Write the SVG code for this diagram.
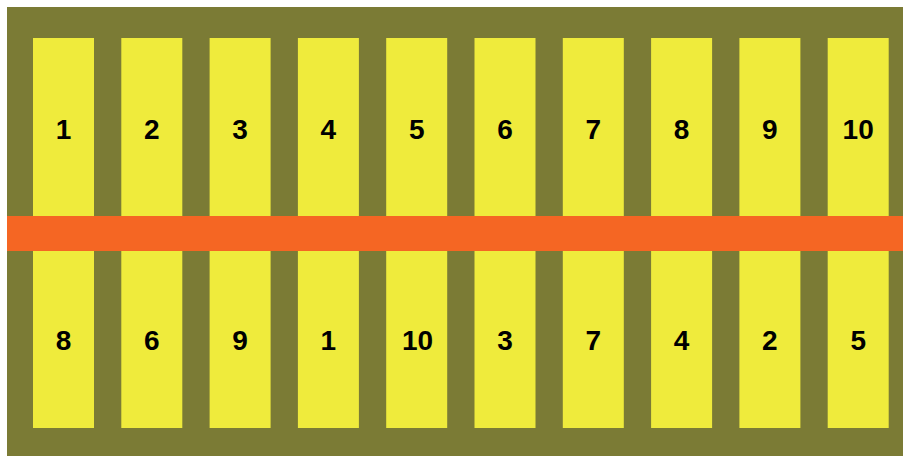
<svg xmlns="http://www.w3.org/2000/svg" width="903" height="456" viewBox="0 0 903 456">
<style>
.bg{fill:#7b7b35}
.slot{fill:#efeb3c}
.band{fill:#f56623}
.lbl{font-family:"Liberation Sans",Arial,sans-serif;font-weight:bold;font-size:28px;fill:#000;text-anchor:middle}
</style>
<rect width="903" height="456" fill="#ffffff"/>
<rect class="bg" x="7" y="7" width="896" height="449"/>
<g id="top-row">
<g id="t1"><rect class="slot" x="33" y="38" width="61" height="178"/><text class="lbl" x="63.5" y="139">1</text></g>
<g id="t2"><rect class="slot" x="121.3" y="38" width="61" height="178"/><text class="lbl" x="151.8" y="139">2</text></g>
<g id="t3"><rect class="slot" x="209.6" y="38" width="61" height="178"/><text class="lbl" x="240.1" y="139">3</text></g>
<g id="t4"><rect class="slot" x="297.9" y="38" width="61" height="178"/><text class="lbl" x="328.4" y="139">4</text></g>
<g id="t5"><rect class="slot" x="386.2" y="38" width="61" height="178"/><text class="lbl" x="416.7" y="139">5</text></g>
<g id="t6"><rect class="slot" x="474.5" y="38" width="61" height="178"/><text class="lbl" x="505" y="139">6</text></g>
<g id="t7"><rect class="slot" x="562.8" y="38" width="61" height="178"/><text class="lbl" x="593.3" y="139">7</text></g>
<g id="t8"><rect class="slot" x="651.1" y="38" width="61" height="178"/><text class="lbl" x="681.6" y="139">8</text></g>
<g id="t9"><rect class="slot" x="739.4" y="38" width="61" height="178"/><text class="lbl" x="769.9" y="139">9</text></g>
<g id="t10"><rect class="slot" x="827.7" y="38" width="61" height="178"/><text class="lbl" x="858.2" y="139">10</text></g>
</g>
<g id="bottom-row">
<g id="b1"><rect class="slot" x="33" y="250" width="61" height="178"/><text class="lbl" x="63.5" y="350">8</text></g>
<g id="b2"><rect class="slot" x="121.3" y="250" width="61" height="178"/><text class="lbl" x="151.8" y="350">6</text></g>
<g id="b3"><rect class="slot" x="209.6" y="250" width="61" height="178"/><text class="lbl" x="240.1" y="350">9</text></g>
<g id="b4"><rect class="slot" x="297.9" y="250" width="61" height="178"/><text class="lbl" x="328.4" y="350">1</text></g>
<g id="b5"><rect class="slot" x="386.2" y="250" width="61" height="178"/><text class="lbl" x="417.5" y="350">10</text></g>
<g id="b6"><rect class="slot" x="474.5" y="250" width="61" height="178"/><text class="lbl" x="505" y="350">3</text></g>
<g id="b7"><rect class="slot" x="562.8" y="250" width="61" height="178"/><text class="lbl" x="593.3" y="350">7</text></g>
<g id="b8"><rect class="slot" x="651.1" y="250" width="61" height="178"/><text class="lbl" x="681.6" y="350">4</text></g>
<g id="b9"><rect class="slot" x="739.4" y="250" width="61" height="178"/><text class="lbl" x="769.9" y="350">2</text></g>
<g id="b10"><rect class="slot" x="827.7" y="250" width="61" height="178"/><text class="lbl" x="858.2" y="350">5</text></g>
</g>
<g id="band"><rect class="band" x="7" y="216" width="896" height="35"/></g>
<g id="connectors"/>
</svg>
